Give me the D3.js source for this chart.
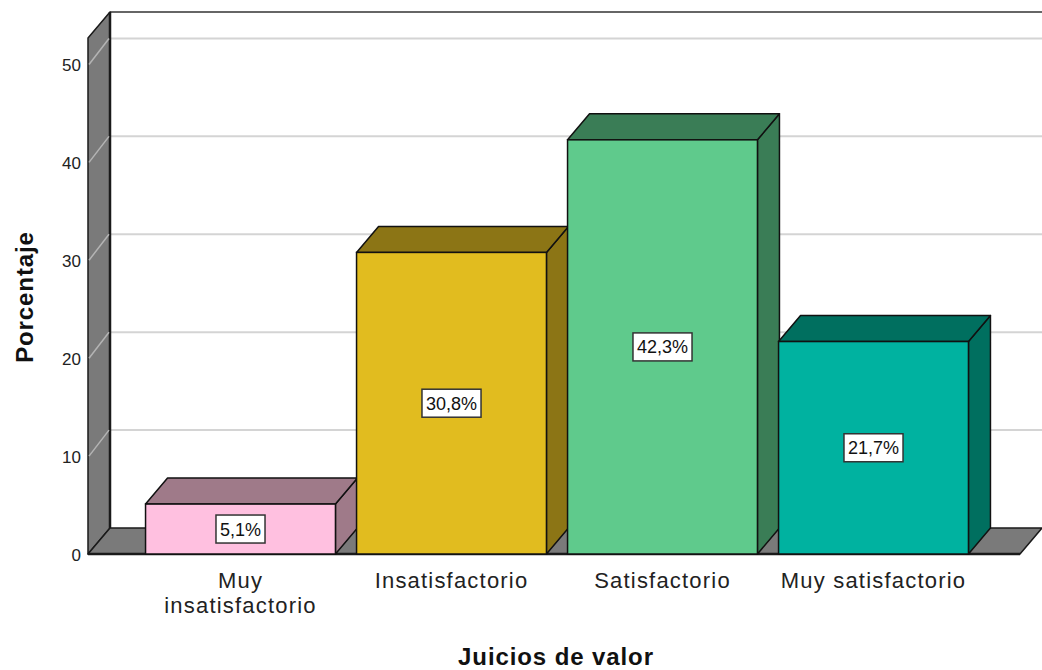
<!DOCTYPE html>
<html>
<head>
<meta charset="utf-8">
<script src="https://cdn.jsdelivr.net/npm/d3@7/dist/d3.min.js"></script>
<style>
  html, body { margin: 0; padding: 0; background: #ffffff; }
  svg { display: block; }
  text { font-family: "Liberation Sans", Arial, sans-serif; }
</style>
</head>
<body>
<svg id="chart" width="1042" height="670"></svg>
<script>
// ---- data ----
const categories = ["Muy insatisfactorio", "Insatisfactorio", "Satisfactorio", "Muy satisfactorio"];
const values = [5.1, 30.8, 42.3, 21.7];
const valueLabels = ["5,1%", "30,8%", "42,3%", "21,7%"];
const yTicks = [0, 10, 20, 30, 40, 50];
const frontColors = ["#FFC0E0", "#E1BC1F", "#5FCA8C", "#00B2A0"];
const darkColors = ["#9F7A89", "#8C7515", "#3A7D56", "#006F5F"];
const yTitle = "Porcentaje";
const xTitle = "Juicios de valor";

// ---- layout ----
const svg = d3.select("#chart");
const dx = 22, dy = -26;          // 3D depth offset
const floorY = 554;
const frontLeft = 88, frontRight = 1020;

const y = d3.scaleLinear().domain([0, 52.7]).range([floorY, 38]);
const x = d3.scaleBand().domain(categories).range([135, 979])
  .paddingInner(0.1).paddingOuter(0.05);

// back wall gridlines
const grid = svg.append("g");
grid.selectAll("line.back").data(yTicks.slice(1)).join("line")
  .attr("x1", frontLeft + dx).attr("x2", 1042)
  .attr("y1", d => y(d) + dy).attr("y2", d => y(d) + dy)
  .attr("stroke", "#D4D4D4").attr("stroke-width", 2);

// top border of back plane
svg.append("line").attr("x1", frontLeft + dx).attr("x2", 1042)
  .attr("y1", y.range()[1] + dy).attr("y2", y.range()[1] + dy)
  .attr("stroke", "#333").attr("stroke-width", 1.5);

// left wall
const yTop = y.range()[1];
svg.append("polygon")
  .attr("points", [[frontLeft, floorY], [frontLeft, yTop], [frontLeft + dx, yTop + dy], [frontLeft + dx, floorY + dy]].map(p => p.join(",")).join(" "))
  .attr("fill", "#7A7A7A").attr("stroke", "#1a1a1a").attr("stroke-width", 1.5).attr("stroke-linejoin", "round");
svg.append("line").attr("x1", frontLeft + dx).attr("x2", frontLeft + dx)
  .attr("y1", yTop + dy).attr("y2", floorY + dy)
  .attr("stroke", "#1a1a1a").attr("stroke-width", 2.5);
// diagonal gridlines on the wall
svg.append("g").selectAll("line").data(yTicks.slice(1)).join("line")
  .attr("x1", frontLeft + 1).attr("y1", d => y(d))
  .attr("x2", frontLeft + dx - 1).attr("y2", d => y(d) + dy)
  .attr("stroke", "#B4B4B4").attr("stroke-width", 1.5);

// floor
svg.append("polygon")
  .attr("points", [[frontLeft, floorY], [frontRight, floorY], [frontRight + dx, floorY + dy], [frontLeft + dx, floorY + dy]].map(p => p.join(",")).join(" "))
  .attr("fill", "#7A7A7A").attr("stroke", "#1a1a1a").attr("stroke-width", 1.5).attr("stroke-linejoin", "round");
svg.append("line").attr("x1", frontLeft).attr("x2", frontRight)
  .attr("y1", floorY).attr("y2", floorY)
  .attr("stroke", "#1a1a1a").attr("stroke-width", 2.5);

// bars
const bars = svg.append("g").selectAll("g").data(categories).join("g");
bars.each(function(c, i) {
  const g = d3.select(this);
  const x0 = x(c), x1 = x(c) + x.bandwidth();
  const yt = y(values[i]);
  const pts = a => a.map(p => p.join(",")).join(" ");
  // side
  g.append("polygon")
    .attr("points", pts([[x1, yt], [x1 + dx, yt + dy], [x1 + dx, floorY + dy], [x1, floorY]]))
    .attr("fill", darkColors[i]).attr("stroke", "#111").attr("stroke-width", 1.5).attr("stroke-linejoin", "round");
  // top
  g.append("polygon")
    .attr("points", pts([[x0, yt], [x0 + dx, yt + dy], [x1 + dx, yt + dy], [x1, yt]]))
    .attr("fill", darkColors[i]).attr("stroke", "#111").attr("stroke-width", 1.5).attr("stroke-linejoin", "round");
  // front
  g.append("rect")
    .attr("x", x0).attr("y", yt).attr("width", x.bandwidth()).attr("height", floorY - yt)
    .attr("fill", frontColors[i]).attr("stroke", "#111").attr("stroke-width", 1.5);
  // value label
  const cx = (x0 + x1) / 2, cy = (yt + floorY) / 2;
  const t = g.append("text").attr("x", cx).attr("y", cy).attr("dy", "0.36em")
    .attr("text-anchor", "middle").attr("font-size", 18).attr("fill", "#111")
    .text(valueLabels[i]);
  const bb = t.node().getBBox();
  g.insert("rect", "text")
    .attr("x", cx - bb.width / 2 - 4).attr("y", cy - 14)
    .attr("width", bb.width + 8).attr("height", 28)
    .attr("fill", "#fff").attr("stroke", "#333").attr("stroke-width", 1.5);
});

// y axis tick labels
const yAxis = d3.axisLeft(y).tickValues(yTicks).tickSize(0).tickPadding(0).tickFormat(d3.format("d"));
const yg = svg.append("g").attr("transform", "translate(81,0)").call(yAxis);
yg.select(".domain").remove();
yg.selectAll("text").attr("font-size", 17).attr("fill", "#222")
  .attr("font-family", "Liberation Sans, Arial, sans-serif").attr("dy", "0.36em");

// x axis category labels
const xAxis = d3.axisBottom(x).tickSize(0).tickPadding(0);
const xg = svg.append("g").attr("transform", "translate(0,0)").call(xAxis);
xg.select(".domain").remove();
xg.selectAll(".tick text").each(function(c) {
  const el = d3.select(this);
  el.text(null).attr("y", 588).attr("dy", null)
    .attr("font-size", 22).attr("letter-spacing", "1.2px").attr("fill", "#222")
    .attr("font-family", "Liberation Sans, Arial, sans-serif");
  // wrap if wider than bar
  const words = c.split(" ");
  const probe = el.append("tspan").text(c);
  const w = probe.node().getComputedTextLength();
  probe.remove();
  let lines = [c];
  if (w > x.bandwidth() + 5 && words.length > 1) {
    lines = [words.slice(0, -1).join(" "), words[words.length - 1]];
  }
  lines.forEach((ln, k) => {
    el.append("tspan").attr("x", 0).attr("y", 588 + k * 25).text(ln);
  });
});

// axis titles
svg.append("text")
  .attr("transform", "translate(33,297) rotate(-90)")
  .attr("text-anchor", "middle").attr("font-size", 24).attr("font-weight", "bold")
  .attr("letter-spacing", "0.9px").attr("fill", "#111").text(yTitle);
svg.append("text")
  .attr("x", 556).attr("y", 665)
  .attr("text-anchor", "middle").attr("font-size", 24).attr("font-weight", "bold")
  .attr("letter-spacing", "0.9px").attr("fill", "#111").text(xTitle);
</script>
</body>
</html>
